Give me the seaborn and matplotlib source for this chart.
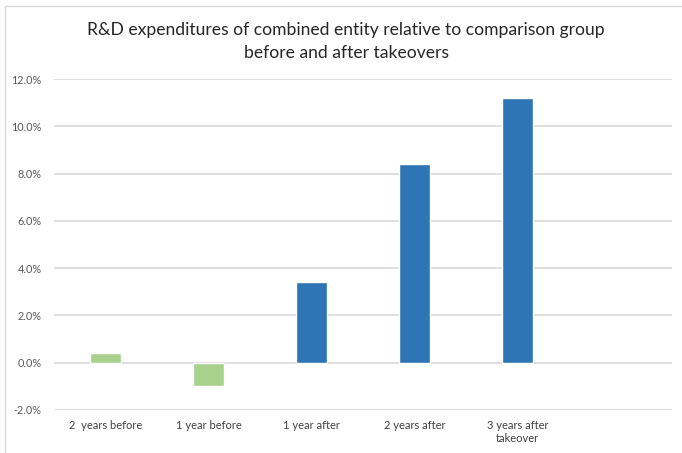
import matplotlib
matplotlib.use("Agg")
import matplotlib.pyplot as plt
import seaborn as sns
import pandas as pd
from matplotlib.patches import Rectangle
from matplotlib.ticker import FuncFormatter

categories = ["2  years before", "1 year before", "1 year after", "2 years after", "3 years after\ntakeover"]
values = [0.4, -1.0, 3.4, 8.4, 11.2]
bar_colors = ["#A9D18E", "#A9D18E", "#2E75B6", "#2E75B6", "#2E75B6"]
yticks = [-2, 0, 2, 4, 6, 8, 10, 12]
title = "R&D expenditures of combined entity relative to comparison group\nbefore and after takeovers"

sns.set_theme(style="white")
plt.rcParams['font.family'] = ['Lato', 'DejaVu Sans']

df = pd.DataFrame({"cat": categories, "val": values})

fig = plt.figure(figsize=(6.82, 4.53), dpi=100)
ax = fig.add_axes([54/682, 1 - 410/453, (672 - 54)/682, (410 - 79)/453])

sns.barplot(data=df, x="cat", y="val", hue="cat", palette=bar_colors,
            order=categories, hue_order=categories, legend=False,
            width=0.31, saturation=1, ax=ax, zorder=3)

ax.set_xlim(-0.5, 5.5)
ax.set_ylim(-2, 12)
ax.set_yticks(yticks)
ax.yaxis.set_major_formatter(FuncFormatter(lambda v, p: f"{v:.1f}%"))
ax.grid(axis="y", color="#D9D9D9", linewidth=1.2, zorder=0)
ax.set_axisbelow(True)
for s in ax.spines.values():
    s.set_visible(False)
ax.set_xlabel("")
ax.set_ylabel("")
ax.tick_params(axis="y", length=0, labelsize=7.8, labelcolor="#595959", pad=9)
ax.tick_params(axis="x", length=0, labelsize=8, labelcolor="#404040", pad=7)
for lbl in ax.get_xticklabels():
    lbl.set_linespacing(1.3)

fig.text(346/682, 1 - 41.5/453, title, ha="center", va="center", fontsize=12.6,
         color="#262626", linespacing=1.5)

fig.patches.append(Rectangle((5/682, -0.1), 1.2, (1 - 6/453) + 0.1,
                             transform=fig.transFigure, fill=False,
                             edgecolor="#D9D9D9", linewidth=1))

fig.savefig("out.png", dpi=100)
